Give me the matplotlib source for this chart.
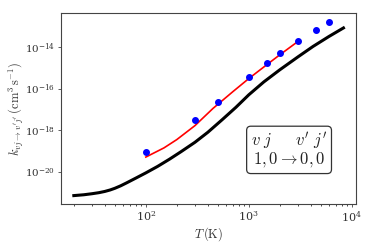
import numpy as np
import matplotlib
matplotlib.use("Agg")
import matplotlib.pyplot as plt

plt.rcParams['mathtext.fontset'] = 'cm'
plt.rcParams['font.family'] = 'serif'
plt.rcParams['font.serif'] = ['DejaVu Serif']

# -----------------------------
# Data (log10 of rate coefficient)
# -----------------------------
# black curve
T_black = [20, 25, 30, 35, 40, 45, 50, 57, 65, 80, 100, 130, 170, 220, 300, 400, 550,
           750, 1000, 1400, 2000, 3000, 4200, 6000, 8300]
logk_black = [-21.14, -21.10, -21.05, -21.00, -20.94, -20.87, -20.79, -20.67, -20.53,
              -20.30, -20.05, -19.74, -19.39, -19.03, -18.58, -18.10, -17.50, -16.90,
              -16.30, -15.68, -15.10, -14.48, -13.98, -13.50, -13.09]

# red fit
T_red = [100, 150, 200, 300, 450, 700, 1000, 1500, 2000, 3000]
logk_red = [-19.29, -18.85, -18.45, -17.78, -16.95, -16.15, -15.52, -14.85, -14.38, -13.74]

# blue points
T_pts = [100, 300, 500, 1000, 1500, 2000, 3000, 4500, 6000]
logk_pts = [-19.05, -17.53, -16.64, -15.44, -14.77, -14.29, -13.72, -13.17, -12.79]

# -----------------------------
# Plot
# -----------------------------
fig = plt.figure(figsize=(3.74, 2.49), dpi=100)
ax = fig.add_axes([0.163, 0.181, 0.789, 0.767])

ax.plot(T_black, 10 ** np.array(logk_black), color='black', lw=2.2)
ax.plot(T_red, 10 ** np.array(logk_red), color='red', lw=1.2)
ax.plot(T_pts, 10 ** np.array(logk_pts), 'o', color='blue', ms=4, mec='blue')

ax.set_xscale('log')
ax.set_yscale('log')
ax.set_xlim(15, 11000)
ax.set_ylim(10 ** -21.54, 10 ** -12.37)
ax.set_yticks([1e-20, 1e-18, 1e-16, 1e-14])
ax.yaxis.set_minor_locator(matplotlib.ticker.NullLocator())

ax.set_xlabel(r'$T\,(\mathrm{K})$', fontsize=9, color='#333333', labelpad=1)
ax.set_ylabel(r"$k_{vj\to v'j'}\,(\mathrm{cm}^3\,\mathrm{s}^{-1})$", fontsize=9,
              color='#333333')
ax.yaxis.set_label_coords(-0.12, 0.5)
ax.tick_params(labelsize=8, colors='#444444', labelcolor='#333333',
               length=2, width=0.6, pad=2)
ax.tick_params(which='minor', length=1.2, width=0.5)
ax.tick_params(axis='y', labelsize=7.5)
for s in ax.spines.values():
    s.set_color('#444444')

ax.text(0.773, 0.283, "$v\\ j\\quad\\ \\ v'\\ j'$\n$1,0\\rightarrow 0,0$",
        transform=ax.transAxes, fontsize=12, ha='center', va='center',
        linespacing=0.9, color='#222222',
        bbox=dict(boxstyle='round,pad=0.25', fc='white', ec='#333333', lw=0.9))

plt.savefig("out.png", dpi=100)
